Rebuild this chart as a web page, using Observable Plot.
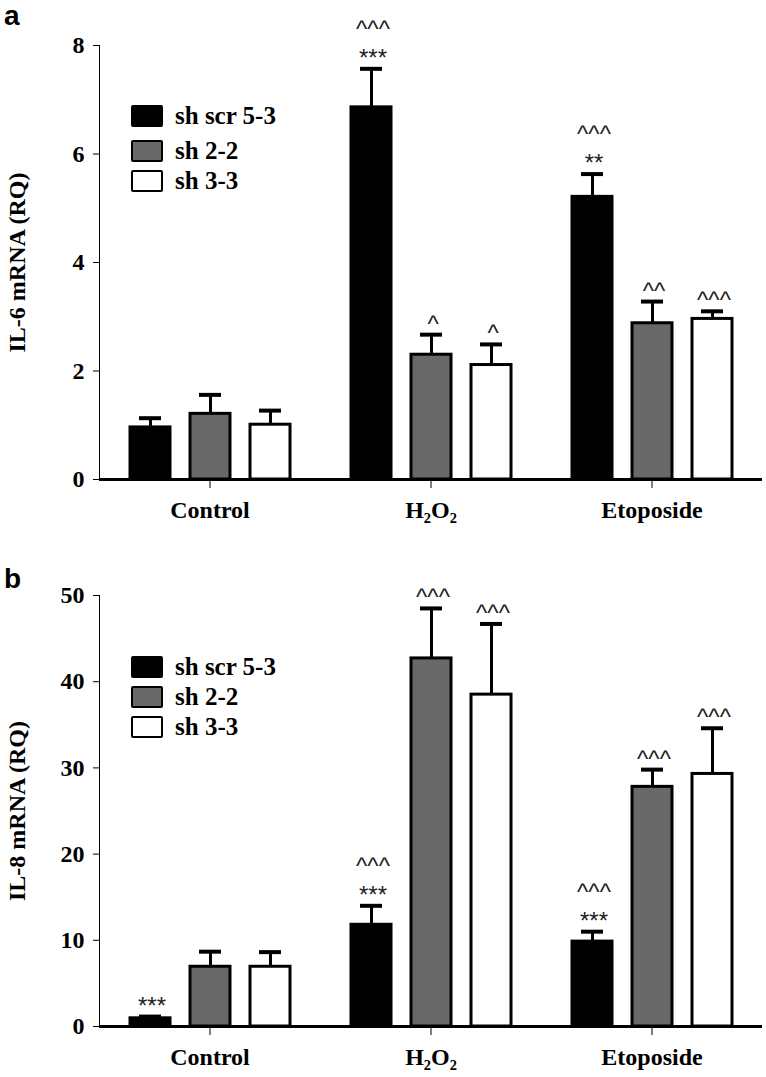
<!DOCTYPE html>
<html>
<head>
<meta charset="utf-8">
<script src="https://cdn.jsdelivr.net/npm/d3@7"></script>
<script src="https://cdn.jsdelivr.net/npm/@observablehq/plot@0.6"></script>
<style>
  body { margin: 0; background: #fff; }
  #wrap { position: relative; width: 766px; height: 1077px; overflow: hidden; }
  .panel { position: absolute; left: 0; width: 766px; }
  .letter { position: absolute; font-family: "Liberation Sans", Arial, sans-serif; font-weight: bold; font-size: 28px; line-height: 1; }
  .legend { position: absolute; font-family: "Liberation Serif", "Times New Roman", serif; font-weight: bold; font-size: 25px; color: #000; }
  .legend .row { position: absolute; left: 0; display: flex; align-items: center; white-space: nowrap; }
  .legend .sw { width: 28px; height: 18px; border: 2.5px solid #000; border-radius: 2px; margin-right: 12px; box-sizing: content-box; }
  svg text.sig { letter-spacing: 3px; }
</style>
</head>
<body>
<div id="wrap"></div>
<script>
// ---- data ----
const categories = ["Control", "H₂O₂", "Etoposide"];
const series = ["sh scr 5-3", "sh 2-2", "sh 3-3"];
const seriesColors = ["#000000", "#686868", "#ffffff"];

// Panel a: IL-6 mRNA (RQ); rows = categories, columns = series
const il6Mean = [[0.96, 1.21, 1.01], [6.86, 2.30, 2.11], [5.21, 2.88, 2.96]];
const il6Err  = [[0.17, 0.35, 0.26], [0.71, 0.37, 0.38], [0.42, 0.40, 0.14]];
const il6Sig  = [["", "", ""], ["^^^\n***", "^", "^"], ["^^^\n**", "^^", "^^^"]];
const il6Ticks = [0, 2, 4, 6, 8];

// Panel b: IL-8 mRNA (RQ)
const il8Mean = [[0.95, 6.93, 6.93], [11.8, 42.7, 38.5], [9.85, 27.8, 29.3]];
const il8Err  = [[0.20, 1.75, 1.70], [2.2, 5.8, 8.2], [1.15, 2.0, 5.3]];
const il8Sig  = [["***", "", ""], ["^^^\n***", "^^^", "^^^"], ["^^^\n***", "^^^", "^^^"]];
const il8Ticks = [0, 10, 20, 30, 40, 50];

function makeRows(means, errs, sigs) {
  return categories.flatMap((c, i) => series.map((s, j) => ({
    cat: c, ser: s, v: means[i][j], top: means[i][j] + errs[i][j], sig: sigs[i][j]
  })));
}

function makePanel(cfg) {
  const rows = makeRows(cfg.means, cfg.errs, cfg.sigs);
  return Plot.plot({
    width: 766,
    height: cfg.height,
    marginLeft: 98,
    marginRight: 4,
    marginTop: cfg.marginTop,
    marginBottom: cfg.marginBottom,
    style: { fontFamily: '"Liberation Serif", "Times New Roman", serif', fontWeight: "bold", fontSize: "24px", color: "#000", background: "transparent" },
    fx: { domain: categories, padding: 0, label: null, tickSize: 9, tickPadding: 12 },
    x: { domain: series, paddingInner: 1 / 3, paddingOuter: 0.5, axis: null },
    y: { domain: cfg.domain, ticks: cfg.ticks, label: cfg.label, labelAnchor: "center", labelArrow: "none", labelOffset: 92, tickSize: 6, tickPadding: 9, line: true },
    color: { domain: series, range: seriesColors },
    marks: [
      Plot.ruleX(rows, { fx: "cat", x: "ser", y1: "v", y2: "top", stroke: "#000", strokeWidth: 3 }),
      Plot.tickY(rows, { fx: "cat", x: "ser", y: "top", stroke: "#000", strokeWidth: 4, insetLeft: 9, insetRight: 9 }),
      Plot.barY(rows, { fx: "cat", x: "ser", y: "v", fill: "ser", stroke: "#000", strokeWidth: 3 }),
      Plot.ruleY([0], { stroke: "#000", strokeWidth: 3 }),
      Plot.text(rows, { fx: "cat", x: "ser", y: "top", text: "sig", lineAnchor: "bottom", dy: -3, dx: 1.5, lineHeight: 1.2, fontSize: 24, fontFamily: '"Liberation Sans", Arial, sans-serif', fontWeight: "normal", fill: "#222", className: "sig" })
    ]
  });
}

function addLegend(parent, left, tops) {
  const lg = document.createElement("div");
  lg.className = "legend";
  lg.style.left = left + "px";
  lg.style.top = "0px";
  series.forEach((s, i) => {
    const row = document.createElement("div");
    row.className = "row";
    row.style.top = tops[i] + "px";
    const sw = document.createElement("span");
    sw.className = "sw";
    sw.style.background = seriesColors[i];
    const tx = document.createElement("span");
    tx.textContent = s;
    row.append(sw, tx);
    lg.append(row);
  });
  parent.append(lg);
}

const wrap = document.getElementById("wrap");

// panel a
const pa = document.createElement("div");
pa.className = "panel"; pa.style.top = "0px"; pa.style.height = "540px";
pa.append(makePanel({ means: il6Mean, errs: il6Err, sigs: il6Sig, domain: [0, 8], ticks: il6Ticks, label: "IL-6 mRNA (RQ)", height: 540, marginTop: 45, marginBottom: 61 }));
const la = document.createElement("div"); la.className = "letter"; la.textContent = "a"; la.style.left = "4px"; la.style.top = "2px";
pa.append(la);
addLegend(pa, 131, [102, 137, 167]);
wrap.append(pa);

// panel b
const pb = document.createElement("div");
pb.className = "panel"; pb.style.top = "540px"; pb.style.height = "537px";
pb.append(makePanel({ means: il8Mean, errs: il8Err, sigs: il8Sig, domain: [0, 50], ticks: il8Ticks, label: "IL-8 mRNA (RQ)", height: 537, marginTop: 55, marginBottom: 51 }));
const lb = document.createElement("div"); lb.className = "letter"; lb.textContent = "b"; lb.style.left = "4px"; lb.style.top = "25px";
pb.append(lb);
addLegend(pb, 131, [113, 143, 173]);
wrap.append(pb);
</script>
</body>
</html>
